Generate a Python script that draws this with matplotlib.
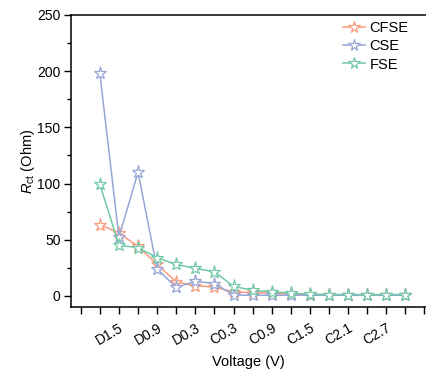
import numpy as np
import matplotlib
matplotlib.use("Agg")
import matplotlib.pyplot as plt

plt.rcParams['font.family'] = ['Liberation Sans', 'DejaVu Sans']
plt.rcParams['mathtext.fontset'] = 'custom'
plt.rcParams['mathtext.rm'] = 'Liberation Sans'
plt.rcParams['mathtext.it'] = 'Liberation Sans:italic'

# categorias de tensão (só as ímpares aparecem no eixo)
voltagens = ['D1.8', 'D1.5', 'D1.2', 'D0.9', 'D0.6', 'D0.3', 'C0', 'C0.3', 'C0.6',
             'C0.9', 'C1.2', 'C1.5', 'C1.8', 'C2.1', 'C2.4', 'C2.7', 'C3.0']

cfse = [63.5, 56, 44, 28, 12.5, 9, 8, 3.5, 3, 2.5, 1.5, 1.2, 1, 1, 1, 1, 1]
cse = [198, 52.5, 110, 24, 7.5, 13, 11, 0.8, 0.6, 0.6, 0.6, 0.6, 0.6, 0.6, 0.6, 0.6, 0.6]
fse = [99.5, 45, 43, 34, 28, 24.5, 21.5, 8.5, 5, 3.7, 2.5, 1.5, 1.2, 1.2, 1.2, 1.2, 1.2]

series = [('CFSE', cfse, '#f99b7d'), ('CSE', cse, '#97a6d5'), ('FSE', fse, '#72c7a6')]

fig = plt.figure(figsize=(4.26, 3.83), dpi=100)
ax = fig.add_axes([0.1667, 0.198, 0.8333, 0.763])

x = np.arange(len(voltagens))
for nome, y, cor in series:
    ax.plot(x, y, color=cor, lw=1.1, marker='*', markersize=9.5,
            markerfacecolor='white', markeredgecolor=cor, markeredgewidth=0.9,
            label=nome)

ax.set_xlim(-1.51, 17.08)
ax.set_ylim(-10, 250)

ticks = np.arange(-1, 18)
rotulos = [voltagens[i] if (0 <= i < 16 and i % 2 == 1) else '' for i in ticks]
ax.set_xticks(ticks)
ax.set_xticklabels(rotulos, rotation=30, ha='right', rotation_mode='anchor')
ax.set_yticks(np.arange(0, 251, 50))
ax.set_yticks(np.arange(25, 250, 50), minor=True)
ax.tick_params(axis='both', direction='out', length=5, width=1, labelsize=10)
ax.tick_params(axis='y', which='minor', direction='out', length=3, width=1)
ax.tick_params(axis='x', pad=5)
ax.tick_params(axis='y', pad=2.5)

for s in ax.spines.values():
    s.set_linewidth(1.1)
ax.spines['right'].set_visible(False)

ax.set_xlabel('Voltage (V)', fontsize=10.5, labelpad=5)
ax.set_ylabel('$R_{\\mathrm{ct}}$ (Ohm)', fontsize=10.5, labelpad=0)

ax.legend(loc='upper right', bbox_to_anchor=(0.975, 1.01), frameon=False, fontsize=10.5,
          handlelength=1.5, handletextpad=0.3, labelspacing=0.3, borderaxespad=0.2,
          markerscale=0.9)

fig.savefig('out.png', dpi=100)
